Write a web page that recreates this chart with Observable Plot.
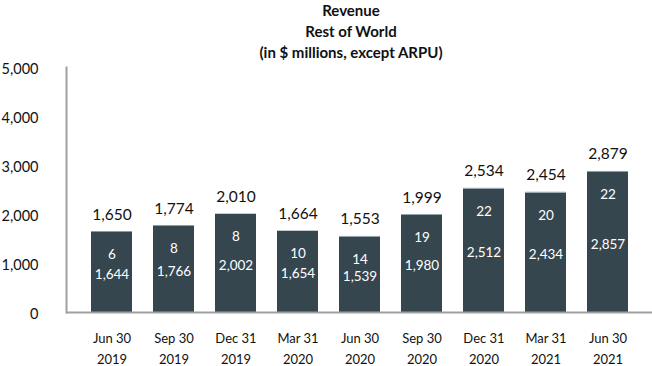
<!DOCTYPE html>
<html>
<head>
<meta charset="utf-8">
<script src="https://cdn.jsdelivr.net/npm/d3@7"></script>
<script src="https://cdn.jsdelivr.net/npm/@observablehq/plot@0.6"></script>
<style>
  body { margin: 0; background: #fff; font-family: Lato, "Open Sans", sans-serif; }
  #title { height: 60px; width: 652px; box-sizing: border-box; padding-left: 50px; text-align: center;
           font-weight: bold; font-size: 15px; line-height: 21px; color: #111; padding-top: 0px; }
</style>
</head>
<body>
<div id="title">Revenue<br>Rest of World<br>(in $ millions, except ARPU)</div>
<div id="chart"></div>
<script>
const quarters = ["Jun 30\n2019","Sep 30\n2019","Dec 31\n2019","Mar 31\n2020","Jun 30\n2020","Sep 30\n2020","Dec 31\n2020","Mar 31\n2021","Jun 30\n2021"];
const streaming = [1644,1766,2002,1654,1539,1980,2512,2434,2857];
const other = [6,8,8,10,14,19,22,20,22];
const totals = [1650,1774,2010,1664,1553,1999,2534,2454,2879];
const yTicks = [0,1000,2000,3000,4000,5000];

const rows = [];
quarters.forEach((q, i) => {
  rows.push({q, part: "streaming", v: streaming[i]});
  rows.push({q, part: "other", v: other[i]});
});
const per = quarters.map((q, i) => ({q, s: streaming[i], o: other[i], t: totals[i]}));

const chart = Plot.plot({
  width: 652,
  height: 306,
  marginTop: 7,
  marginBottom: 54,
  marginLeft: 66,
  marginRight: 0,
  style: {fontFamily: "Lato, 'Open Sans', sans-serif", color: "#111"},
  x: {domain: quarters, padding: 0.34, label: null},
  y: {domain: [0, 5000], label: null},
  color: {domain: ["streaming", "other"], range: ["#36464f", "#8e9ea8"]},
  marks: [
    Plot.barY(rows, {x: "q", y: "v", fill: "part", order: ["streaming", "other"]}),
    Plot.ruleY([0], {stroke: "#a0a0a0", strokeWidth: 2}),
    Plot.frame({anchor: "left", stroke: "#a0a0a0", strokeWidth: 2}),
    Plot.axisY({ticks: yTicks, tickFormat: d3.format(","), tickSize: 0, tickPadding: 28, fontSize: 14.5, dy: 2}),
    Plot.axisX({tickSize: 0, tickPadding: 15, fontSize: 13, lineHeight: 1.65}),
    Plot.text(per, {x: "q", y: "t", text: d => d3.format(",")(d.t), dy: -17, fontSize: 15.5, fill: "#111"}),
    Plot.text(per, {x: "q", y: "t", text: d => d3.format(",")(d.o), dy: 23, fontSize: 13.5, fill: "#fff"}),
    Plot.text(per, {x: "q", y: d => d.s / 2, text: d => d3.format(",")(d.s), dy: 2, fontSize: 13.5, fill: "#fff"})
  ]
});
document.getElementById("chart").appendChild(chart);
</script>
</body>
</html>
